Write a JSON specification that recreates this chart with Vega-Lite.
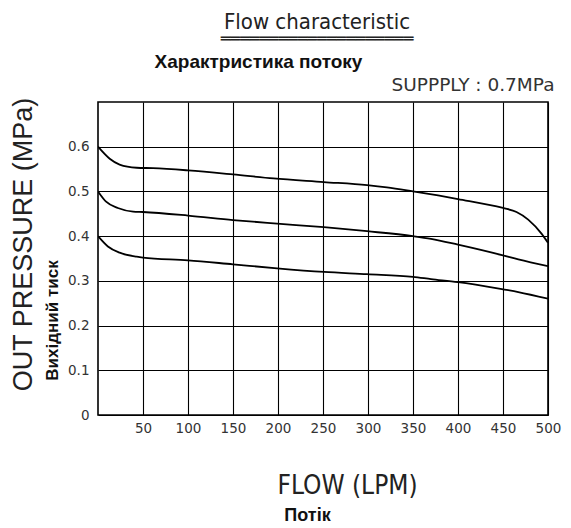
{
  "$schema": "https://vega.github.io/schema/vega-lite/v6.json",
  "autosize": "none",
  "width": 450,
  "height": 313,
  "padding": {"left": 98, "top": 102, "right": 23, "bottom": 113},
  "background": "white",
  "title": {
    "text": "Flow characteristic",
    "subtitle": "════════════════════",
    "anchor": "middle",
    "frame": "group",
    "dx": -6,
    "offset": 4,
    "font": "DejaVu Sans Condensed, sans-serif",
    "fontSize": 22,
    "fontWeight": "normal",
    "color": "#222",
    "subtitleFont": "DejaVu Sans",
    "subtitleFontSize": 16,
    "subtitleColor": "#222",
    "subtitlePadding": -3
  },
  "datasets": {
    "curves": [
      {"curve": "0.6", "flow": 0, "pressure": 0.6},
      {"curve": "0.6", "flow": 13, "pressure": 0.573},
      {"curve": "0.6", "flow": 24, "pressure": 0.56},
      {"curve": "0.6", "flow": 43, "pressure": 0.553},
      {"curve": "0.6", "flow": 61, "pressure": 0.552},
      {"curve": "0.6", "flow": 100, "pressure": 0.547},
      {"curve": "0.6", "flow": 150, "pressure": 0.538},
      {"curve": "0.6", "flow": 195, "pressure": 0.529},
      {"curve": "0.6", "flow": 251, "pressure": 0.521},
      {"curve": "0.6", "flow": 299, "pressure": 0.514},
      {"curve": "0.6", "flow": 321, "pressure": 0.509},
      {"curve": "0.6", "flow": 350, "pressure": 0.5},
      {"curve": "0.6", "flow": 400, "pressure": 0.483},
      {"curve": "0.6", "flow": 450, "pressure": 0.463},
      {"curve": "0.6", "flow": 465, "pressure": 0.454},
      {"curve": "0.6", "flow": 478, "pressure": 0.437},
      {"curve": "0.6", "flow": 493, "pressure": 0.405},
      {"curve": "0.6", "flow": 500, "pressure": 0.385},
      {"curve": "0.5", "flow": 0, "pressure": 0.5},
      {"curve": "0.5", "flow": 9, "pressure": 0.477},
      {"curve": "0.5", "flow": 22, "pressure": 0.463},
      {"curve": "0.5", "flow": 39, "pressure": 0.455},
      {"curve": "0.5", "flow": 50, "pressure": 0.454},
      {"curve": "0.5", "flow": 100, "pressure": 0.446},
      {"curve": "0.5", "flow": 150, "pressure": 0.436},
      {"curve": "0.5", "flow": 199, "pressure": 0.428},
      {"curve": "0.5", "flow": 251, "pressure": 0.42},
      {"curve": "0.5", "flow": 299, "pressure": 0.411},
      {"curve": "0.5", "flow": 350, "pressure": 0.4},
      {"curve": "0.5", "flow": 370, "pressure": 0.394},
      {"curve": "0.5", "flow": 400, "pressure": 0.381},
      {"curve": "0.5", "flow": 450, "pressure": 0.357},
      {"curve": "0.5", "flow": 467, "pressure": 0.348},
      {"curve": "0.5", "flow": 500, "pressure": 0.333},
      {"curve": "0.4", "flow": 0, "pressure": 0.4},
      {"curve": "0.4", "flow": 11, "pressure": 0.377},
      {"curve": "0.4", "flow": 24, "pressure": 0.363},
      {"curve": "0.4", "flow": 43, "pressure": 0.354},
      {"curve": "0.4", "flow": 50, "pressure": 0.352},
      {"curve": "0.4", "flow": 100, "pressure": 0.346},
      {"curve": "0.4", "flow": 150, "pressure": 0.337},
      {"curve": "0.4", "flow": 199, "pressure": 0.328},
      {"curve": "0.4", "flow": 251, "pressure": 0.32},
      {"curve": "0.4", "flow": 299, "pressure": 0.315},
      {"curve": "0.4", "flow": 350, "pressure": 0.309},
      {"curve": "0.4", "flow": 370, "pressure": 0.304},
      {"curve": "0.4", "flow": 400, "pressure": 0.297},
      {"curve": "0.4", "flow": 450, "pressure": 0.281},
      {"curve": "0.4", "flow": 467, "pressure": 0.275},
      {"curve": "0.4", "flow": 500, "pressure": 0.26}
    ]
  },
  "resolve": {"scale": {"x": "independent", "y": "independent"}},
  "layer": [
    {
      "data": {"name": "curves"},
      "transform": [{"filter": "datum.curve === '0.6'"}],
      "mark": {"type": "line", "color": "black", "strokeWidth": 1.8, "interpolate": "monotone", "clip": true},
      "encoding": {
        "x": {
          "field": "flow", "type": "quantitative",
          "scale": {"domain": [0, 500], "nice": false, "zero": false},
          "axis": {
            "orient": "bottom",
            "values": [50, 100, 150, 200, 250, 300, 350, 400, 450, 500],
            "grid": true,
            "labelFlush": false,
            "title": "FLOW (LPM)",
            "titleFont": "DejaVu Sans Condensed, sans-serif",
            "titleFontSize": 26,
            "titleFontWeight": "normal",
            "titleColor": "#222",
            "titleX": 249,
            "titleY": 78,
            "titleAlign": "center",
            "titleBaseline": "alphabetic"
          }
        },
        "y": {
          "field": "pressure", "type": "quantitative",
          "scale": {"domain": [0, 0.7], "nice": false},
          "axis": {
            "orient": "left",
            "values": [0, 0.1, 0.2, 0.3, 0.4, 0.5, 0.6],
            "labelExpr": "datum.value === 0 ? '0' : format(datum.value, '.1f')",
            "grid": true,
            "labelFlush": false,
            "labelPadding": 9,
            "title": "OUT PRESSURE (MPa)",
            "titleFont": "Liberation Sans",
            "titleFontSize": 27,
            "titleFontWeight": "normal",
            "titleColor": "#222",
            "titleAngle": -90,
            "titleX": -75,
            "titleY": 142,
            "titleAlign": "center",
            "titleBaseline": "middle"
          }
        }
      }
    },
    {
      "data": {"name": "curves"},
      "transform": [{"filter": "datum.curve === '0.5'"}],
      "mark": {"type": "line", "color": "black", "strokeWidth": 1.8, "interpolate": "monotone", "clip": true},
      "encoding": {
        "x": {
          "field": "flow", "type": "quantitative",
          "scale": {"domain": [0, 500], "nice": false, "zero": false},
          "axis": {
            "orient": "bottom",
            "labels": false, "ticks": false, "domain": false, "grid": false,
            "title": "Потік",
            "titleFont": "Liberation Sans",
            "titleFontSize": 18,
            "titleFontWeight": "bold",
            "titleColor": "#111",
            "titleX": 209,
            "titleY": 105,
            "titleAlign": "center",
            "titleBaseline": "alphabetic"
          }
        },
        "y": {
          "field": "pressure", "type": "quantitative",
          "scale": {"domain": [0, 0.7], "nice": false},
          "axis": {
            "orient": "left",
            "labels": false, "ticks": false, "domain": false, "grid": false,
            "title": "Вихідний тиск",
            "titleFont": "Liberation Sans",
            "titleFontSize": 17,
            "titleFontWeight": "bold",
            "titleColor": "#111",
            "titleAngle": -90,
            "titleX": -46,
            "titleY": 218,
            "titleAlign": "center",
            "titleBaseline": "middle"
          }
        }
      }
    },
    {
      "data": {"name": "curves"},
      "transform": [{"filter": "datum.curve === '0.4'"}],
      "mark": {"type": "line", "color": "black", "strokeWidth": 1.8, "interpolate": "monotone", "clip": true},
      "encoding": {
        "x": {
          "field": "flow", "type": "quantitative",
          "scale": {"domain": [0, 500], "nice": false, "zero": false},
          "axis": {
            "orient": "top",
            "labels": false, "ticks": false, "domain": false, "grid": false,
            "title": "Характристика потоку",
            "titleFont": "Liberation Sans",
            "titleFontSize": 19,
            "titleFontWeight": "bold",
            "titleColor": "#111",
            "titleX": 160,
            "titleY": -35,
            "titleAlign": "center",
            "titleBaseline": "alphabetic"
          }
        },
        "y": {
          "field": "pressure", "type": "quantitative",
          "scale": {"domain": [0, 0.7], "nice": false},
          "axis": {
            "orient": "right",
            "labels": false, "ticks": false, "domain": false, "grid": false,
            "title": "SUPPPLY : 0.7MPa",
            "titleFont": "DejaVu Sans",
            "titleFontSize": 18.5,
            "titleFontWeight": "normal",
            "titleColor": "#333",
            "titleAngle": 0,
            "titleX": 6,
            "titleY": -12,
            "titleAlign": "right",
            "titleBaseline": "alphabetic"
          }
        }
      }
    }
  ],
  "config": {
    "view": {"stroke": "black", "strokeWidth": 1.6},
    "axis": {
      "domain": false,
      "ticks": false,
      "gridColor": "black",
      "gridOpacity": 1,
      "gridWidth": 1.1,
      "labelFont": "DejaVu Sans",
      "labelFontSize": 13.5,
      "labelColor": "#333",
      "labelPadding": 6
    }
  }
}
